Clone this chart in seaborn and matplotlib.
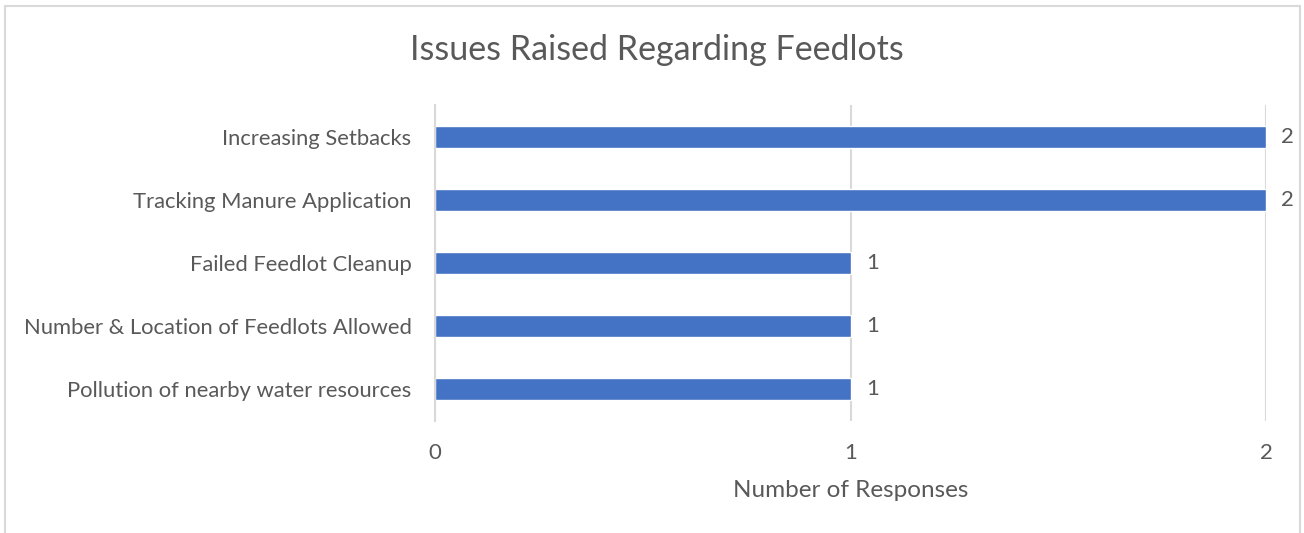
import matplotlib.pyplot as plt
import matplotlib.patches as mpatches
import seaborn as sns
import pandas as pd

issues = [
    'Increasing Setbacks',
    'Tracking Manure Application',
    'Failed Feedlot Cleanup',
    'Number & Location of Feedlots Allowed',
    'Pollution of nearby water resources',
]
responses = [2, 2, 1, 1, 1]

text_color = '#595959'
grid_color = '#D9D9D9'
bar_color = '#4472C4'

sns.set_style('white')
plt.rcParams['font.family'] = ['Lato', 'DejaVu Sans']

df = pd.DataFrame({'Issue': issues, 'Responses': responses})

fig = plt.figure(figsize=(13.04, 5.33), dpi=100)
ax = fig.add_axes([435 / 1304, 112.5 / 533, 831 / 1304, 315 / 533])

sns.barplot(data=df, x='Responses', y='Issue', orient='h', color=bar_color,
            saturation=1, width=0.35, ax=ax)

ax.set_xlim(0, 2)
ax.set_xticks([0, 1, 2])
ax.xaxis.grid(True, color=grid_color, linewidth=1.5)
ax.set_axisbelow(True)
for s in ['top', 'right', 'bottom']:
    ax.spines[s].set_visible(False)
ax.spines['left'].set_color(grid_color)
ax.spines['left'].set_linewidth(1.5)

ax.tick_params(axis='y', length=0, pad=17, labelsize=15.8, labelcolor=text_color)
ax.tick_params(axis='x', length=0, pad=16.5, labelsize=16, labelcolor=text_color)
ax.set_ylabel('')
ax.set_xlabel('Number of Responses', fontsize=17.5, color=text_color, labelpad=12)

# value labels just past each bar end
for i, v in enumerate(responses):
    ax.annotate(str(v), (v, i), xytext=(11, 0), textcoords='offset points',
                va='center', ha='left', fontsize=16, color=text_color,
                annotation_clip=False)

fig.text(656.5 / 1304, 1 - 50 / 533, 'Issues Raised Regarding Feedlots', ha='center',
         va='center', fontsize=24.5, color=text_color)

# chart-area frame, open at the bottom like the source image
border = mpatches.Rectangle((5 / 1304, -0.05), 1295 / 1304, 1.05 - 6 / 533,
                            transform=fig.transFigure, fill=False,
                            edgecolor=grid_color, linewidth=1.5, clip_on=False)
fig.patches.append(border)

fig.savefig('out.png', dpi=100, facecolor='white')
